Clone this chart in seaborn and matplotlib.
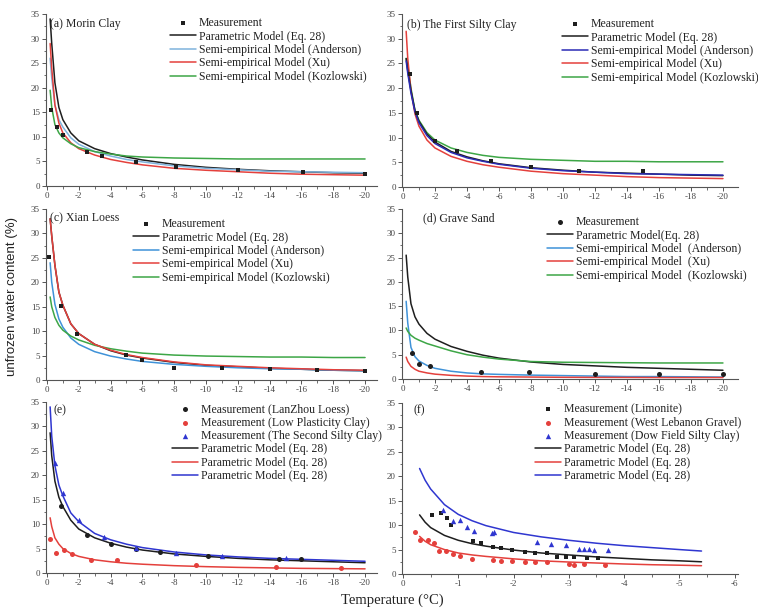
import numpy as np
import pandas as pd
import matplotlib
matplotlib.use("Agg")
import matplotlib.pyplot as plt
import seaborn as sns
from matplotlib.ticker import MultipleLocator

sns.set_theme(style="ticks")
plt.rcParams['font.family'] = ['Liberation Serif', 'DejaVu Serif']
plt.rcParams['axes.unicode_minus'] = False

# ---------------- data ----------------
T20 = [-0.2, -0.3, -0.5, -0.75, -1, -1.5, -2, -3, -4, -5, -6, -8, -10, -12, -14, -16, -18, -20]
T6 = [-0.3, -0.4, -0.5, -0.75, -1, -1.25, -1.5, -2, -2.5, -3, -3.5, -4, -4.5, -5, -5.4]

# (a) Morin Clay
a_meas_x = [-0.27, -0.63, -1.0, -2.54, -3.46, -5.58, -8.13, -12.0, -16.1, -20.0]
a_meas_y = [15.4, 12.0, 10.4, 7.0, 6.1, 4.8, 3.9, 3.2, 2.8, 2.5]
a_param = [34, 29, 21, 16, 13.5, 10.8, 9.2, 7.6, 6.6, 5.9, 5.3, 4.4, 3.8, 3.4, 3.1, 2.9, 2.7, 2.6]
a_anderson = [26, 22, 16.5, 13.5, 12, 9.8, 8.5, 7.0, 6.1, 5.4, 4.9, 4.1, 3.6, 3.3, 3.0, 2.9, 2.8, 2.7]
a_xu = [29, 24, 16.5, 12.8, 10.8, 8.8, 7.6, 6.3, 5.4, 4.8, 4.3, 3.6, 3.2, 2.9, 2.6, 2.4, 2.3, 2.2]
a_koz = [19.5, 16, 12.5, 10.8, 9.8, 8.6, 7.8, 7.0, 6.5, 6.1, 5.9, 5.7, 5.6, 5.5, 5.5, 5.5, 5.5, 5.5]

# (b) The First Silty Clay
b_meas_x = [-0.45, -0.9, -2.0, -3.4, -5.5, -8.0, -11.0, -15.0]
b_meas_y = [22.9, 15.0, 9.3, 7.3, 5.2, 4.0, 3.2, 3.3]
b_param = [26, 23.5, 19.5, 15.5, 13.3, 10.7, 9.1, 7.2, 6.1, 5.3, 4.7, 3.9, 3.4, 3.0, 2.8, 2.6, 2.4, 2.3]
b_anderson = [25.5, 23, 19, 15.2, 13.0, 10.4, 8.8, 7.0, 5.9, 5.2, 4.6, 3.8, 3.3, 3.0, 2.7, 2.6, 2.5, 2.4]
b_xu = [31.5, 26, 19.5, 14.8, 12.3, 9.5, 7.9, 6.2, 5.2, 4.5, 4.0, 3.2, 2.7, 2.4, 2.1, 1.9, 1.8, 1.7]
b_koz = [26, 24.5, 20, 15.5, 13.5, 11, 9.5, 7.9, 7.0, 6.4, 6.0, 5.6, 5.4, 5.2, 5.2, 5.1, 5.1, 5.1]

# (c) Xian Loess
c_meas_x = [-0.15, -0.9, -1.9, -5.0, -6.0, -8.0, -11.0, -14.0, -17.0, -20.0]
c_meas_y = [25.2, 15.2, 9.4, 5.1, 4.1, 2.4, 2.5, 2.2, 2.1, 1.9]
c_param = [33, 29.5, 23.5, 18, 15.3, 11.5, 9.5, 7.3, 6.0, 5.1, 4.5, 3.6, 3.0, 2.7, 2.4, 2.2, 2.0, 1.9]
c_anderson = [24, 20, 15.5, 12.5, 10.8, 8.6, 7.3, 5.8, 4.9, 4.3, 3.8, 3.2, 2.8, 2.5, 2.3, 2.2, 2.0, 1.9]
c_xu = [33, 29.5, 23.5, 18, 15.3, 11.5, 9.5, 7.3, 6.1, 5.2, 4.6, 3.7, 3.1, 2.8, 2.5, 2.3, 2.1, 2.0]
c_koz = [17, 15, 12.8, 11.2, 10.2, 9.0, 8.2, 7.1, 6.4, 5.9, 5.5, 5.1, 4.9, 4.8, 4.7, 4.7, 4.6, 4.6]

# (d) Grave Sand
d_meas_x = [-0.55, -1.0, -1.7, -4.9, -7.9, -12.0, -16.0, -20.0]
d_meas_y = [5.3, 3.0, 2.6, 1.5, 1.5, 1.1, 1.0, 1.0]
d_param = [25.5, 21, 15.5, 12.8, 11.3, 9.4, 8.2, 6.7, 5.7, 4.9, 4.3, 3.5, 3.0, 2.7, 2.4, 2.2, 2.0, 1.8]
d_anderson = [16, 11.5, 6.5, 4.6, 3.7, 2.8, 2.2, 1.6, 1.25, 1.05, 0.95, 0.8, 0.7, 0.6, 0.5, 0.5, 0.45, 0.4]
d_xu = [4.5, 3.6, 2.6, 2.0, 1.6, 1.25, 1.0, 0.75, 0.6, 0.5, 0.45, 0.4, 0.35, 0.33, 0.32, 0.3, 0.3, 0.3]
d_koz = [10.5, 9.8, 9.0, 8.4, 8.0, 7.3, 6.8, 5.8, 5.0, 4.5, 4.1, 3.6, 3.45, 3.4, 3.35, 3.3, 3.3, 3.3]

# (e)
e_lanzhou_x = [-0.9, -2.5, -4.0, -5.6, -7.1, -10.1, -14.6, -16.0]
e_lanzhou_y = [13.7, 7.8, 6.0, 5.0, 4.2, 3.4, 2.8, 2.8]
e_lowpl_x = [-0.17, -0.6, -1.08, -1.6, -2.8, -4.4, -9.4, -14.4, -18.5]
e_lowpl_y = [7.0, 4.1, 4.7, 3.8, 2.7, 2.6, 1.7, 1.3, 1.0]
e_second_x = [-0.5, -1.0, -2.0, -3.6, -5.6, -8.1, -11.0, -15.0]
e_second_y = [22.5, 16.3, 10.8, 7.3, 5.2, 4.1, 3.4, 3.0]
e_param_black = [28.7, 24, 18.8, 15.5, 13.6, 10.8, 9.0, 7.2, 6.1, 5.3, 4.7, 3.9, 3.4, 3.0, 2.7, 2.5, 2.3, 2.1]
e_param_red = [11.3, 9.5, 7.2, 5.9, 5.0, 4.0, 3.4, 2.7, 2.3, 2.0, 1.8, 1.5, 1.3, 1.15, 1.05, 0.95, 0.9, 0.85]
e_param_blue = [34, 28, 22, 18, 15.8, 12.3, 10.5, 8.1, 6.8, 5.9, 5.2, 4.3, 3.7, 3.3, 3.0, 2.8, 2.6, 2.4]

# (f)
f_limonite_x = [-0.53, -0.68, -0.79, -0.86, -1.27, -1.42, -1.62, -1.78, -1.97, -2.21, -2.39,
                -2.6, -2.78, -2.94, -3.09, -3.33, -3.52]
f_limonite_y = [12.0, 12.5, 11.4, 10.0, 6.7, 6.4, 5.6, 5.4, 4.9, 4.6, 4.4, 4.2, 3.5, 3.5, 3.5, 3.3, 3.3]
f_wlg_x = [-0.21, -0.3, -0.45, -0.56, -0.65, -0.77, -0.9, -1.03, -1.25, -1.62, -1.78, -1.97,
           -2.21, -2.39, -2.6, -3.0, -3.1, -3.27, -3.65]
f_wlg_y = [8.5, 6.9, 6.9, 6.3, 4.7, 4.7, 4.1, 3.7, 3.0, 2.9, 2.7, 2.7, 2.5, 2.4, 2.4, 2.0, 1.8, 2.0, 1.8]
f_dow_x = [-0.73, -0.91, -1.03, -1.15, -1.28, -1.61, -1.64, -2.42, -2.68, -2.95, -3.18, -3.27,
           -3.36, -3.45, -3.7]
f_dow_y = [13.1, 10.8, 11.0, 9.7, 8.8, 8.3, 8.5, 6.6, 6.1, 5.9, 5.2, 5.2, 5.2, 4.9, 4.9]
f_param_black = [12.1, 10.6, 9.5, 7.9, 6.9, 6.2, 5.7, 4.9, 4.3, 3.9, 3.5, 3.2, 2.9, 2.7, 2.5]
f_param_red = [7.7, 6.7, 6.0, 5.0, 4.3, 3.9, 3.6, 3.1, 2.7, 2.45, 2.25, 2.05, 1.9, 1.8, 1.7]
f_param_blue = [21.6, 19.2, 17.4, 14.2, 12.2, 10.9, 9.9, 8.5, 7.6, 6.9, 6.3, 5.8, 5.4, 5.0, 4.7]

labels_std = ["Parametric Model (Eq. 28)", "Semi-empirical Model (Anderson)",
              "Semi-empirical Model (Xu)", "Semi-empirical Model (Kozlowski)"]
labels_d = ["Parametric Model(Eq. 28)", "Semi-empirical Model  (Anderson)",
            "Semi-empirical Model  (Xu)", "Semi-empirical Model  (Kozlowski)"]

# ---------------- style ----------------
BLACK = '#1e1e1e'
RED = '#e4403c'
GREEN = '#3da646'
LBLUE = '#7fb3dd'
MBLUE = '#3f92d8'
NAVY = '#2b2bb5'
BLUE = '#2f36d0'

W, H = 758, 613
fig = plt.figure(figsize=(W / 100, H / 100), dpi=100)


def fx(px):
    return px / W


def fy(py):
    return 1 - py / H


def make_ax(x0, x1, ytop, ybot, xlim, xmaj, xmin):
    ax = fig.add_axes([x0 / W, 1 - ybot / H, (x1 - x0) / W, (ybot - ytop) / H])
    ax.set_xlim(*xlim)
    ax.set_ylim(0, 35)
    ax.xaxis.set_major_locator(MultipleLocator(xmaj))
    ax.xaxis.set_minor_locator(MultipleLocator(xmin))
    ax.yaxis.set_major_locator(MultipleLocator(5))
    ax.yaxis.set_minor_locator(MultipleLocator(2.5))
    for s in ['top', 'right']:
        ax.spines[s].set_visible(False)
    for s in ['left', 'bottom']:
        ax.spines[s].set_color('#555555')
        ax.spines[s].set_linewidth(0.8)
    ax.tick_params(which='major', direction='out', length=3, width=0.7, color='#555555',
                   labelsize=6.5, labelcolor='#444444', pad=1.5)
    ax.tick_params(which='minor', direction='out', length=1.8, width=0.6, color='#555555')
    ax.set_xlabel('')
    ax.set_ylabel('')
    return ax


def draw_lines(ax, x, series, colors, labels, lw=1.1):
    for ys, c, lab in zip(series, colors, labels):
        sns.lineplot(x=x, y=ys, ax=ax, color=c, lw=lw, label=lab, sort=False,
                     estimator=None, zorder=2)


def draw_points(ax, x, y, color, marker, label, s=13):
    sns.scatterplot(x=x, y=y, ax=ax, color=color, marker=marker, s=s, linewidth=0,
                    label=label, zorder=4)


def legend(ax, handle_left, row_center, order=None):
    h, l = ax.get_legend_handles_labels()
    if order is not None:
        h = [h[i] for i in order]
        l = [l[i] for i in order]
    ax.legend(h, l, loc='upper left', bbox_to_anchor=(fx(handle_left), fy(row_center - 6.8)),
              bbox_transform=fig.transFigure, frameon=False, fontsize=8.5,
              handlelength=2.2, handletextpad=0.25, labelspacing=0.12, borderpad=0,
              borderaxespad=0, labelcolor='#222222')


# (a)
ax = make_ax(46, 377, 14, 186, (0.06, -20.75), 2, 1)
draw_points(ax, a_meas_x, a_meas_y, BLACK, 's', 'Measurement', s=11)
draw_lines(ax, T20, [a_param, a_anderson, a_xu, a_koz], [BLACK, LBLUE, RED, GREEN], labels_std)
legend(ax, 170, 24)
fig.text(fx(50), fy(24), "(a) Morin Clay", fontsize=8.5, va='center', color='#222222')

# (b)
ax = make_ax(402, 738, 14, 187, (0.06, -20.94), 2, 1)
draw_points(ax, b_meas_x, b_meas_y, BLACK, 's', 'Measurement', s=11)
draw_lines(ax, T20, [b_koz, b_xu, b_param, b_anderson], [GREEN, RED, BLACK, NAVY],
           [labels_std[3], labels_std[2], labels_std[0], labels_std[1]])
legend(ax, 562, 25, order=[0, 3, 4, 2, 1])
fig.text(fx(407), fy(25), "(b) The First Silty Clay", fontsize=8.5, va='center', color='#222222')

# (c)
ax = make_ax(46, 377, 209, 380, (0.06, -20.75), 2, 1)
draw_points(ax, c_meas_x, c_meas_y, BLACK, 's', 'Measurement', s=11)
draw_lines(ax, T20, [c_param, c_anderson, c_koz, c_xu], [BLACK, MBLUE, GREEN, RED],
           [labels_std[0], labels_std[1], labels_std[3], labels_std[2]])
legend(ax, 133, 225, order=[0, 1, 2, 4, 3])
fig.text(fx(50), fy(218), "(c) Xian Loess", fontsize=8.5, va='center', color='#222222')

# (d)
ax = make_ax(402, 738, 209, 379, (0.06, -20.94), 2, 1)
draw_points(ax, d_meas_x, d_meas_y, BLACK, 'o', 'Measurement', s=13)
draw_lines(ax, T20, [d_param, d_anderson, d_xu, d_koz], [BLACK, MBLUE, RED, GREEN], labels_d)
legend(ax, 547, 223)
fig.text(fx(423), fy(218), "(d) Grave Sand", fontsize=8.5, va='center', color='#222222')

# (e)
ax = make_ax(46, 377, 402, 573, (0.06, -20.75), 2, 1)
draw_points(ax, e_lanzhou_x, e_lanzhou_y, BLACK, 'o', 'Measurement (LanZhou Loess)', s=13)
draw_points(ax, e_lowpl_x, e_lowpl_y, RED, 'o', 'Measurement (Low Plasticity Clay)', s=13)
draw_points(ax, e_second_x, e_second_y, BLUE, '^', 'Measurement (The Second Silty Clay)', s=15)
draw_lines(ax, T20, [e_param_black, e_param_red, e_param_blue], [BLACK, RED, BLUE],
           ["Parametric Model (Eq. 28)"] * 3)
legend(ax, 172, 410)
fig.text(fx(53), fy(410), "(e)", fontsize=8.5, va='center', color='#222222')

# (f)
ax = make_ax(402, 738, 403, 574, (0.018, -6.06), 1, 0.5)
draw_points(ax, f_limonite_x, f_limonite_y, BLACK, 's', 'Measurement (Limonite)', s=12)
draw_points(ax, f_wlg_x, f_wlg_y, RED, 'o', 'Measurement (West Lebanon Gravel)', s=13)
draw_points(ax, f_dow_x, f_dow_y, BLUE, '^', 'Measurement (Dow Field Silty Clay)', s=15)
draw_lines(ax, T6, [f_param_black, f_param_red, f_param_blue], [BLACK, RED, BLUE],
           ["Parametric Model (Eq. 28)"] * 3)
legend(ax, 535, 410)
fig.text(fx(413), fy(410), "(f)", fontsize=8.5, va='center', color='#222222')

fig.text(fx(12), fy(297), "unfrozen water content (%)", rotation=90, ha='center', va='center',
         fontsize=9.5, family=['Liberation Sans', 'DejaVu Sans'], color='#222222')
fig.text(fx(392), fy(600), "Temperature (°C)", ha='center', va='center', fontsize=10.5,
         color='#222222')

fig.savefig("out.png", dpi=100)
